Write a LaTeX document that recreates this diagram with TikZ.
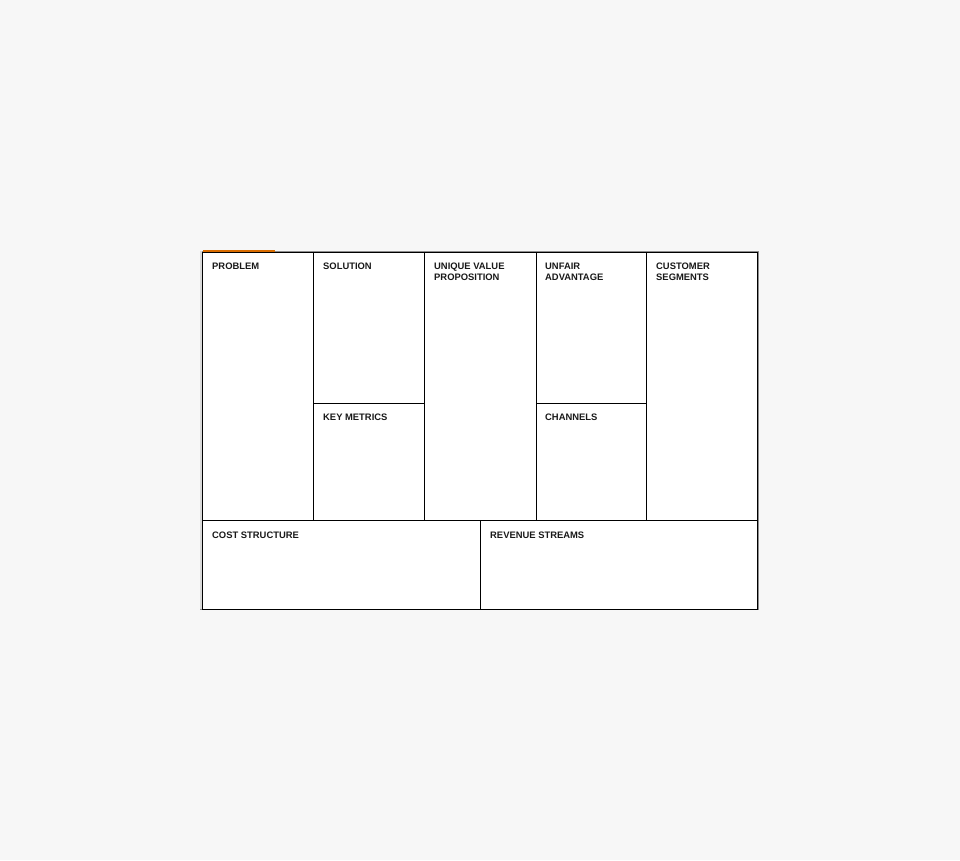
\documentclass[tikz,border=0pt]{standalone}
\usepackage{fontspec}
\setmainfont{Liberation Sans}
\begin{document}
\begin{tikzpicture}[x=1pt,y=-1pt,
    cell/.style={draw=black,line width=1pt,fill=white},
    cellname/.style={anchor=base west,inner sep=0pt,align=left,text=black!90,
      font=\fontsize{9.4}{11}\selectfont\bfseries}]

      \useasboundingbox[fill=black!3] (0,0) rectangle (960,860);

      % shadow and accent
      \fill[black!45] (200,251) rectangle (759,610);
      \fill[black!15] (200,251) rectangle (202,609);

      % grid
      \begin{scope}[every path/.style={cell}]
        \path (202,252) rectangle (313,520);
        \path (313,252) rectangle (424,403);
        \path (313,403) rectangle (424,520);
        \path (424,252) rectangle (536,520);
        \path (536,252) rectangle (646,403);
        \path (536,403) rectangle (646,520);
        \path (646,252) rectangle (757,520);
        \path (202,520) rectangle (480,609);
        \path (480,520) rectangle (757,609);
      \end{scope}
      \draw[orange!85!black,line width=2pt] (203,251) -- (275,251);

      % labels (two-line ones sit on the second baseline)
      \begin{scope}[every node/.style={cellname}]
        \node (problem)  at (212,269) {PROBLEM};
        \node (solution) at (323,269) {SOLUTION};
        \node (metrics)  at (323,420) {KEY METRICS};
        \node (uvp)      at (434,280) {UNIQUE VALUE\\PROPOSITION};
        \node (unfair)   at (545,280) {UNFAIR\\ADVANTAGE};
        \node (channels) at (545,420) {CHANNELS};
        \node (segments) at (656,280) {CUSTOMER\\SEGMENTS};
        \node (cost)     at (212,538) {COST STRUCTURE};
        \node (revenue)  at (490,538) {REVENUE STREAMS};
      \end{scope}

    \end{tikzpicture}
\end{document}
